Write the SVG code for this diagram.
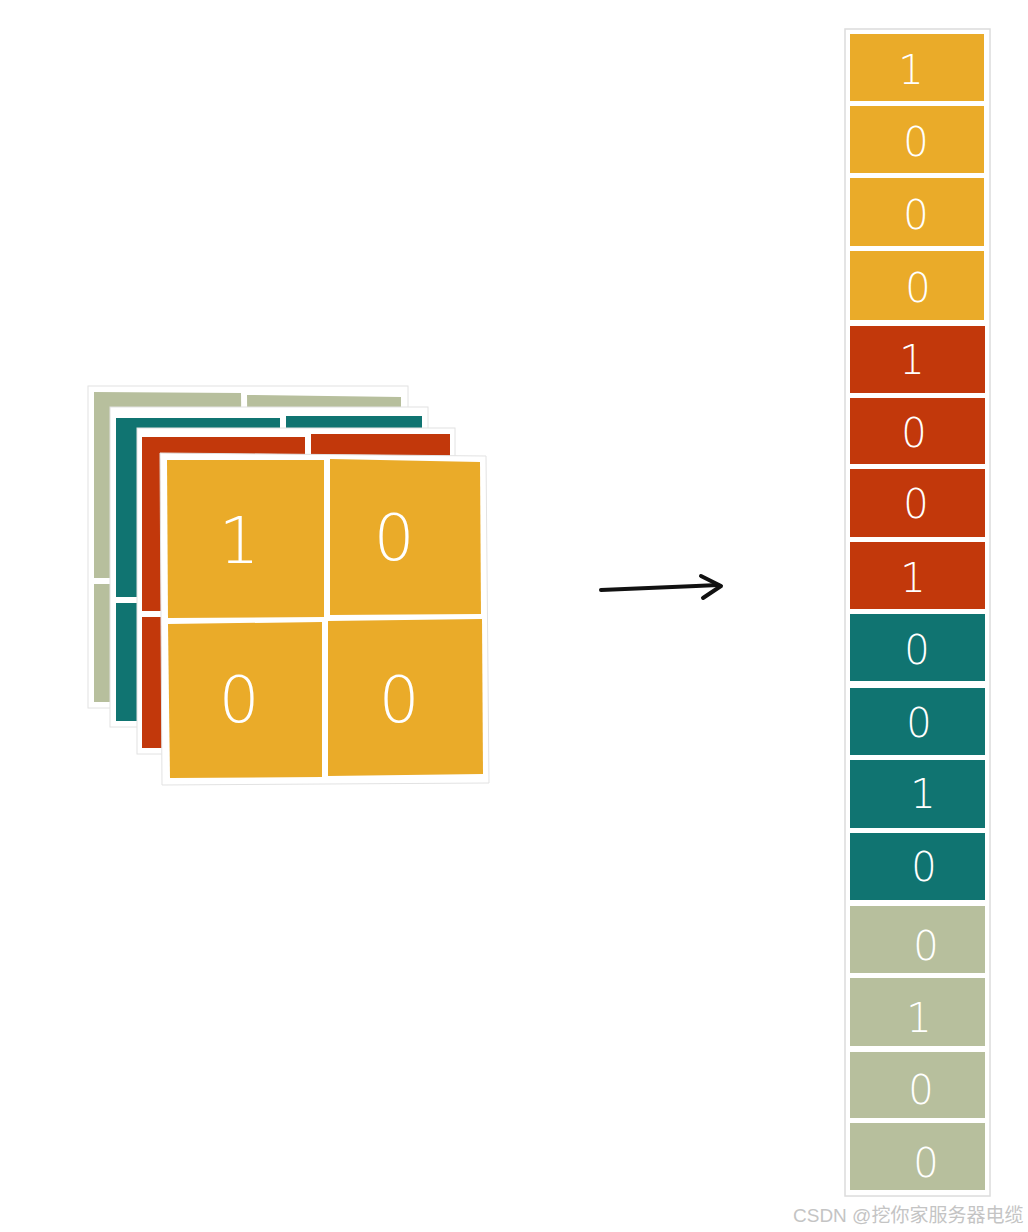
<svg xmlns="http://www.w3.org/2000/svg" width="1028" height="1232" viewBox="0 0 1028 1232">
<style>
.plate{fill:#ffffff;stroke:#e2e2e2;stroke-width:1}
.y{fill:#EAAB29}.r{fill:#C2380B}.t{fill:#107471}.s{fill:#B7BF9D}
.big{font-family:"DejaVu Sans","Open Sans",sans-serif;font-weight:200;font-size:64px;fill:#ffffff;text-anchor:middle}
.d{font-family:"DejaVu Sans","Open Sans",sans-serif;font-weight:200;font-size:40px;fill:#ffffff;text-anchor:middle}
.wm{font-family:"Liberation Sans","Noto Sans CJK SC",sans-serif;font-size:19px;fill:#c4c4c4}
</style>
<rect width="1028" height="1232" fill="#ffffff"/>
<g id="layer-sage">
<rect class="plate" x="88" y="386" width="320" height="322"/>
<polygon class="s" points="94,392 241,393 243,578 94,578"/>
<polygon class="s" points="247,395 401,397 401,578 249,578"/>
<rect class="s" x="94" y="584" width="148" height="118"/>
<rect class="s" x="248" y="584" width="153" height="118"/>
</g>
<g id="layer-teal">
<rect class="plate" x="110" y="407" width="318" height="320"/>
<rect class="t" x="116" y="418" width="164" height="179"/>
<rect class="t" x="286" y="416" width="136" height="181"/>
<rect class="t" x="116" y="603" width="164" height="118"/>
<rect class="t" x="286" y="603" width="136" height="118"/>
</g>
<g id="layer-red">
<rect class="plate" x="137" y="428" width="318" height="326"/>
<rect class="r" x="142" y="437" width="163" height="174"/>
<rect class="r" x="311" y="434" width="139" height="177"/>
<rect class="r" x="142" y="617" width="163" height="131"/>
<rect class="r" x="311" y="617" width="139" height="131"/>
</g>
<g id="layer-yellow">
<polygon class="plate" points="160,453 486,456 489,783 162,785"/>
<polygon class="y" points="167,460 324,460 324,617 168,618"/>
<polygon class="y" points="330,459 480,462 481,614 330,615"/>
<polygon class="y" points="168,624 322,622 322,777 170,778"/>
<polygon class="y" points="328,621 482,619 483,774 328,776"/>
<text class="big" x="239" y="563">1</text>
<text class="big" x="394" y="560">0</text>
<text class="big" x="239" y="722">0</text>
<text class="big" x="399" y="722">0</text>
</g>
<g id="column">
<rect x="845" y="29" width="145" height="1167" fill="#ffffff" stroke="#dcdcdc" stroke-width="1.5"/>
<rect class="y" x="850" y="34" width="134" height="67"/>
<rect class="y" x="850" y="106" width="134" height="67"/>
<rect class="y" x="850" y="178" width="134" height="68"/>
<rect class="y" x="850" y="251" width="134" height="69"/>
<rect class="r" x="850" y="326" width="135" height="67"/>
<rect class="r" x="850" y="398" width="135" height="66"/>
<rect class="r" x="850" y="469" width="135" height="68"/>
<rect class="r" x="850" y="542" width="135" height="67"/>
<rect class="t" x="850" y="614" width="135" height="67"/>
<rect class="t" x="850" y="688" width="135" height="67"/>
<rect class="t" x="850" y="760" width="135" height="68"/>
<rect class="t" x="850" y="833" width="135" height="67"/>
<rect class="s" x="850" y="906" width="135" height="67"/>
<rect class="s" x="850" y="978" width="135" height="68"/>
<rect class="s" x="850" y="1052" width="135" height="66"/>
<rect class="s" x="850" y="1123" width="135" height="67"/>
<text class="d" x="911" y="84">1</text>
<text class="d" x="916" y="156">0</text>
<text class="d" x="916" y="229">0</text>
<text class="d" x="918" y="302">0</text>
<text class="d" x="912" y="374">1</text>
<text class="d" x="914" y="447">0</text>
<text class="d" x="916" y="518">0</text>
<text class="d" x="913" y="592">1</text>
<text class="d" x="917" y="664">0</text>
<text class="d" x="919" y="737">0</text>
<text class="d" x="923" y="808">1</text>
<text class="d" x="924" y="881">0</text>
<text class="d" x="926" y="960">0</text>
<text class="d" x="919" y="1032">1</text>
<text class="d" x="921" y="1104">0</text>
<text class="d" x="926" y="1177">0</text>
</g>
<g id="connectors">
<path d="M601,590 L696,586 L718,585" fill="none" stroke="#111111" stroke-width="4" stroke-linecap="round"/>
<path d="M701,576 L721,586 L703,598" fill="none" stroke="#111111" stroke-width="4" stroke-linecap="round" stroke-linejoin="round"/>
</g>
<text class="wm" x="793" y="1222">CSDN @挖你家服务器电缆</text>
</svg>
